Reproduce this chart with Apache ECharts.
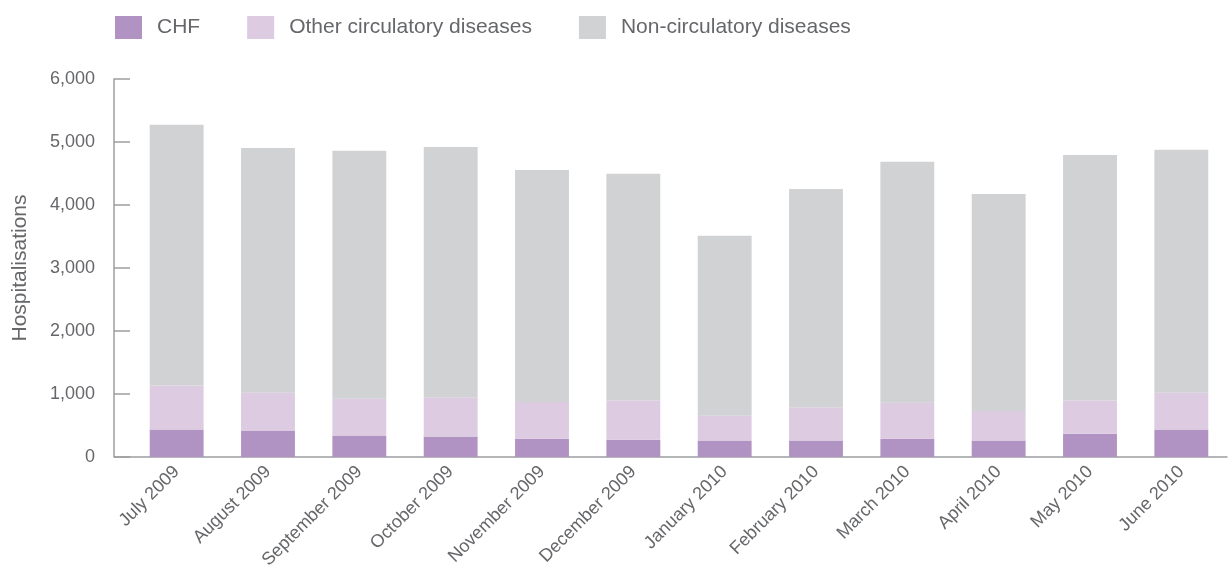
<!DOCTYPE html>
<html>
<head>
<meta charset="utf-8">
<script src="https://cdn.jsdelivr.net/npm/echarts@6/dist/echarts.min.js"></script>
<style>
  html, body { margin: 0; padding: 0; background: #fff; }
  #chart { width: 1228px; height: 577px; }
</style>
</head>
<body>
<div id="chart"></div>
<script>
// Monthly hospitalisations, July 2009 – June 2010
const months = ['July 2009', 'August 2009', 'September 2009', 'October 2009', 'November 2009', 'December 2009',
                'January 2010', 'February 2010', 'March 2010', 'April 2010', 'May 2010', 'June 2010'];
const chf = [435, 420, 340, 325, 290, 275, 260, 260, 290, 260, 370, 435];
const otherCirculatory = [700, 600, 585, 625, 585, 620, 395, 530, 570, 470, 525, 585];
const nonCirculatory = [4140, 3885, 3935, 3970, 3680, 3600, 2855, 3465, 3825, 3445, 3900, 3855];
const yTicks = [0, 1000, 2000, 3000, 4000, 5000, 6000];

const textColor = '#66676a';
const axisColor = '#9d9ea0';
const fontFamily = '"Liberation Sans", Arial, sans-serif';

const chart = echarts.init(document.getElementById('chart'), null, { renderer: 'canvas' });

const barStyle = (name, data, color) => ({
  name, type: 'bar', stack: 'total', data, barWidth: '59%',
  itemStyle: { color }, emphasis: { disabled: true }
});

chart.setOption({
  animation: false,
  textStyle: { fontFamily },
  legend: {
    left: 110, top: 11,
    itemWidth: 27, itemHeight: 23, itemGap: 47,
    icon: 'rect',
    textStyle: { color: textColor, fontSize: 21, fontFamily, padding: [0, 0, 0, 10] },
    data: ['CHF', 'Other circulatory diseases', 'Non-circulatory diseases']
  },
  grid: { left: 131, right: 1, top: 79, bottom: 120 },
  xAxis: {
    type: 'category', data: months,
    axisLine: { lineStyle: { color: axisColor, width: 1.5 } },
    axisTick: { inside: true, length: 13, lineStyle: { color: axisColor, width: 1.5 } },
    axisLabel: { rotate: 45, color: textColor, fontSize: 18, margin: 12, interval: 0 }
  },
  yAxis: {
    type: 'value', min: yTicks[0], max: yTicks[yTicks.length - 1], interval: 1000,
    offset: 17,
    name: 'Hospitalisations', nameLocation: 'middle', nameGap: 83, nameRotate: 90,
    nameTextStyle: { color: textColor, fontSize: 21, fontFamily },
    axisLine: { show: true, lineStyle: { color: axisColor, width: 1.5 } },
    axisTick: { show: true, inside: true, length: 16, lineStyle: { color: axisColor, width: 1.5 } },
    splitLine: { show: false },
    axisLabel: {
      color: textColor, fontSize: 18, margin: 19,
      formatter: v => v.toLocaleString('en-US')
    }
  },
  series: [
    barStyle('CHF', chf, '#b093c2'),
    barStyle('Other circulatory diseases', otherCirculatory, '#dccbe1'),
    barStyle('Non-circulatory diseases', nonCirculatory, '#d1d2d4')
  ]
});

// Extend the baseline from the offset y-axis to the start of the category band
const rect = chart.getModel().getComponent('grid').coordinateSystem.getRect();
const y0 = chart.convertToPixel({ yAxisIndex: 0 }, 0);
chart.setOption({
  graphic: [{
    type: 'line', silent: true,
    shape: { x1: rect.x - 17, y1: y0, x2: rect.x, y2: y0 },
    style: { stroke: axisColor, lineWidth: 1.5 }
  }]
});
</script>
</body>
</html>
